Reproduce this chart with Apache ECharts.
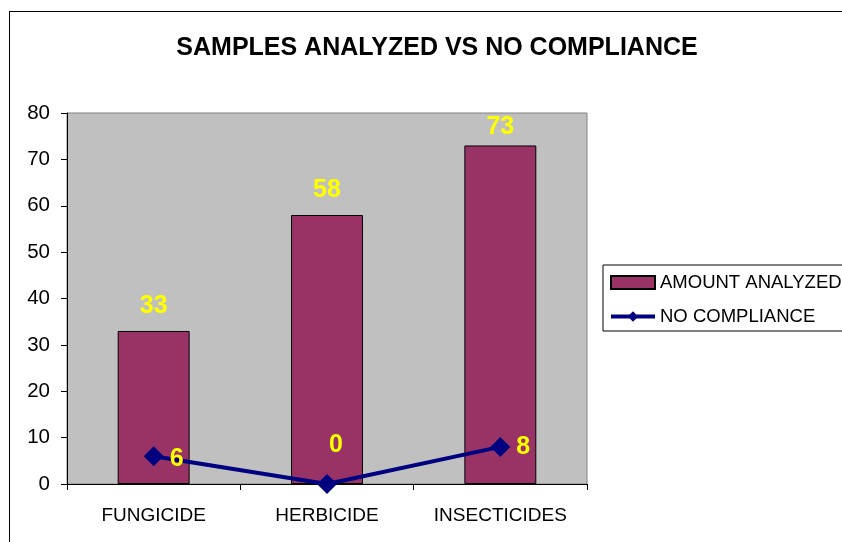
<!DOCTYPE html>
<html>
<head>
<meta charset="utf-8">
<script src="https://cdn.jsdelivr.net/npm/echarts@6/dist/echarts.min.js"></script>
<style>
  html, body { margin: 0; padding: 0; background: #fff; }
  .frame {
    position: absolute; left: 9px; top: 11px; width: 900px; height: 600px;
    border: 1px solid #000; box-sizing: border-box;
  }
  #chart { position: absolute; left: 0; top: 0; width: 842px; height: 542px; }
</style>
</head>
<body>
<div class="frame"></div>
<div id="chart"></div>
<script>
const categories = ['FUNGICIDE', 'HERBICIDE', 'INSECTICIDES'];
const amountAnalyzed = [33, 58, 73];
const noCompliance = [6, 0, 8];
const yTicks = { min: 0, max: 80, interval: 10 };

const chart = echarts.init(document.getElementById('chart'));

const barLabelDist = [12, 12, 6];
const lineLabelOffset = [[-2, 3], [-16, -39], [-2, 0]];

const option = {
  animation: false,
  textStyle: { fontFamily: 'Liberation Sans, Arial, sans-serif' },
  title: {
    text: 'SAMPLES ANALYZED VS NO COMPLIANCE',
    left: 432,
    textAlign: 'center',
    top: 31,
    textStyle: { fontSize: 25, fontWeight: 'bold', color: '#000' }
  },
  legend: {
    left: 603,
    top: 265,
    orient: 'vertical',
    itemGap: 15,
    itemWidth: 44,
    itemHeight: 13,
    padding: [8, 12, 5, 6],
    borderColor: '#000',
    borderWidth: 1,
    textStyle: { fontSize: 18.5, color: '#000' },
    data: [
      { name: 'AMOUNT ANALYZED', icon: 'rect' },
      { name: 'NO COMPLIANCE', lineStyle: { width: 4 } }
    ]
  },
  grid: {
    left: 67,
    right: 255,
    top: 113,
    bottom: 58,
    show: true,
    backgroundColor: '#C0C0C0',
    borderColor: '#808080',
    borderWidth: 1
  },
  xAxis: {
    type: 'category',
    data: categories,
    axisLine: { lineStyle: { color: '#000', width: 1 } },
    axisTick: { show: true, length: 6, lineStyle: { color: '#000' } },
    axisLabel: { color: '#000', fontSize: 19, margin: 22, interval: 0, hideOverlap: false }
  },
  yAxis: {
    type: 'value',
    min: yTicks.min,
    max: yTicks.max,
    interval: yTicks.interval,
    axisLine: { show: true, lineStyle: { color: '#000', width: 1 } },
    axisTick: { show: true, length: 6, lineStyle: { color: '#000' } },
    axisLabel: { color: '#000', fontSize: 20.5, margin: 17 },
    splitLine: { show: false }
  },
  series: [
    {
      name: 'AMOUNT ANALYZED',
      type: 'bar',
      barWidth: '41.5%',
      itemStyle: { color: '#993366', borderColor: '#000', borderWidth: 1 },
      data: amountAnalyzed.map((v, i) => ({
        value: v,
        label: { distance: barLabelDist[i] }
      })),
      label: {
        show: true,
        position: 'top',
        color: '#FFFF00',
        fontSize: 25,
        fontWeight: 'bold'
      }
    },
    {
      name: 'NO COMPLIANCE',
      type: 'line',
      symbol: 'diamond',
      symbolSize: 20,
      itemStyle: { color: '#000080' },
      lineStyle: { color: '#000080', width: 4 },
      data: noCompliance.map((v, i) => ({
        value: v,
        label: { offset: lineLabelOffset[i] }
      })),
      label: {
        show: true,
        position: 'right',
        distance: 8,
        color: '#FFFF00',
        fontSize: 25,
        fontWeight: 'bold'
      }
    }
  ]
};

chart.setOption(option);
</script>
</body>
</html>
